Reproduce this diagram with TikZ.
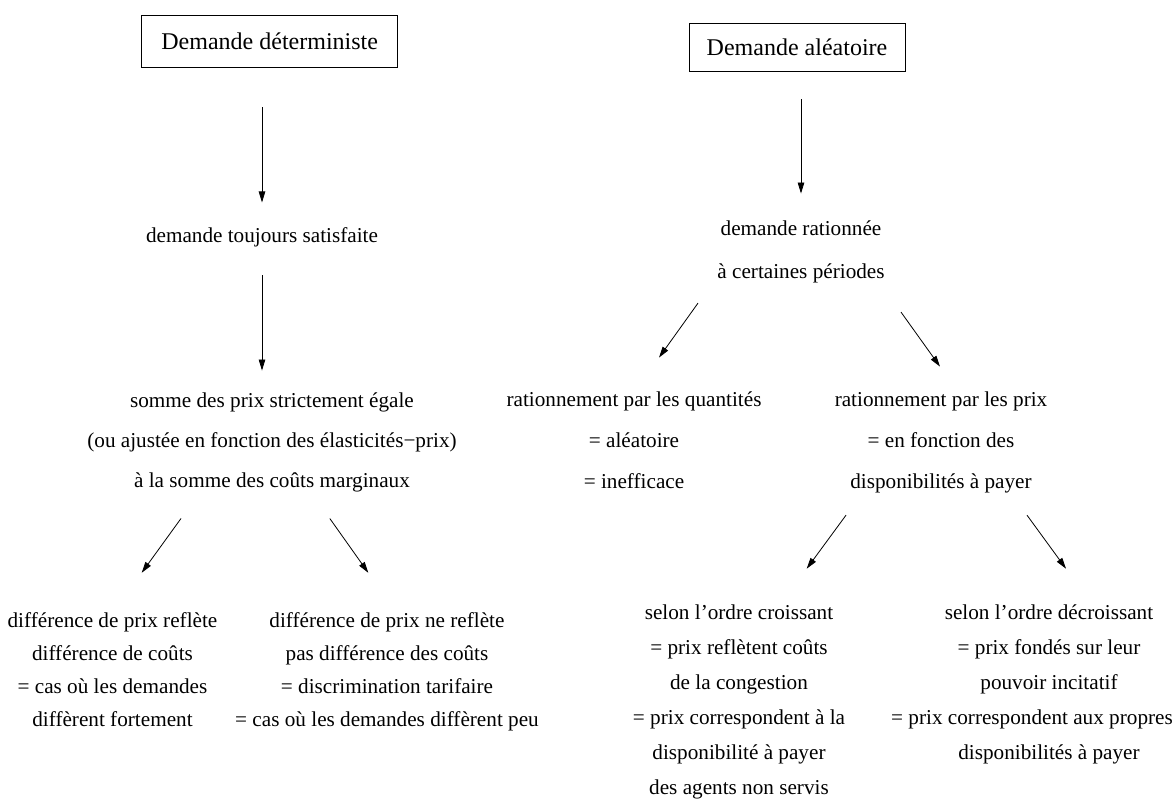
\documentclass[tikz,border=0pt]{standalone}
\usepackage{fontspec}
\setmainfont{Liberation Serif}
\usetikzlibrary{arrows.meta,calc}

\tikzset{
  titre/.style={draw, line width=0.8pt, inner sep=0pt, font=\fontsize{24}{28}\selectfont},
  texte/.style={align=center, inner sep=0pt, anchor=base, font=\fontsize{21.2}{#1}\selectfont},
  texte/.default=41,
  fleche/.style={-{Triangle[length=11pt,width=6.5pt]}, line width=0.8pt},
}

\begin{document}
\begin{tikzpicture}[x=1pt,y=-1pt]
    \useasboundingbox (0,0) rectangle (1174,801);

    % LEFT: Deterministic demand
    \node[titre, minimum width=256pt, minimum height=52.7pt] (determ) at (269.7,41.3) {Demande déterministe};
    \node[texte] (toujours) at (262,242.3) {demande toujours satisfaite};
    \node[texte=40] (somme) at (272,487.3) {somme des prix strictement égale\\(ou ajustée en fonction des élasticités−prix)\\à la somme des coûts marginaux};
    \node[texte=33] (reflete) at (112.5,726.5) {différence de prix reflète\\différence de coûts\\= cas où les demandes\\diffèrent fortement};
    \node[texte=33] (discrim) at (387,726.5) {différence de prix ne reflète\\pas différence des coûts\\= discrimination tarifaire\\= cas où les demandes diffèrent peu};

    % RIGHT: Random demand
    \node[titre, minimum width=216pt, minimum height=48.3pt] (aleat) at (797,47.5) {Demande aléatoire};
    \node[texte=43.3] (rationnee) at (801,278.3) {demande rationnée\\à certaines périodes};
    \node[texte] (quantites) at (634,488.7) {rationnement par les quantités\\= aléatoire\\= inefficace};
    \node[texte] (parprix) at (941,488.7) {rationnement par les prix\\= en fonction des\\disponibilités à payer};
    \node[texte=35] (croissant) at (739,794) {selon l'ordre croissant\\= prix reflètent coûts\\de la congestion\\= prix correspondent à la\\disponibilité à payer\\des agents non servis};
    \node[texte=35] (decroissant) at (1049,759) {selon l'ordre décroissant\\= prix fondés sur leur\\pouvoir incitatif\\= prix correspondent aux propres\hspace*{34pt}\mbox{}\\disponibilités à payer};

    % Arrows, left side
    \draw[fleche] ($(determ.south -| toujours.north)+(0,39.3)$) -- ($(toujours.north)+(0,-24.7)$);
    \draw[fleche] ($(toujours.south)+(0,28)$) -- ($(somme.north -| toujours.south)+(0,-21.8)$);
    \draw[fleche] ($(somme.south)+(-91,26.4)$) -- ($(reflete.north)+(29.2,-39.6)$);
    \draw[fleche] ($(somme.south)+(57.8,26.4)$) -- ($(discrim.north)+(-18.7,-39.6)$);

    % Arrows, right side
    \draw[fleche] ($(aleat.south -| rationnee.north)+(0,27.3)$) -- ($(rationnee.north)+(0,-26.5)$);
    \draw[fleche] ($(rationnee.south)+(-103,20.1)$) -- ($(quantites.north)+(25,-34.2)$);
    \draw[fleche] ($(rationnee.south)+(100,29.1)$) -- ($(parprix.north)+(-1,-25.2)$);
    \draw[fleche] ($(parprix.south)+(-95,21.7)$) -- ($(croissant.north)+(67.7,-35.4)$);
    \draw[fleche] ($(parprix.south)+(86,21.7)$) -- ($(decroissant.north)+(17,-35.4)$);
\end{tikzpicture}
\end{document}
